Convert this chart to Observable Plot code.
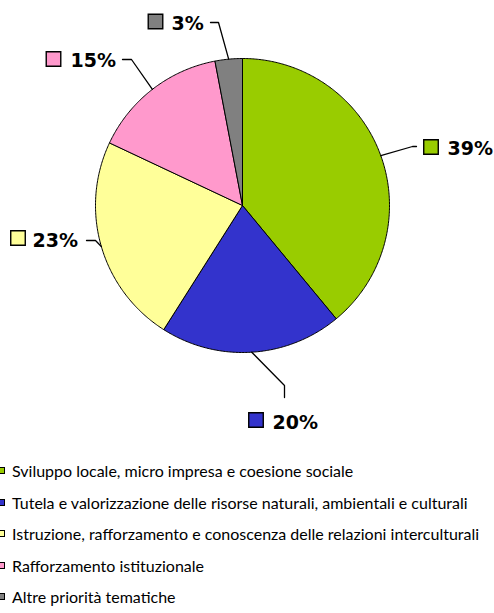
<!DOCTYPE html>
<html><head><meta charset="utf-8">
<script src="https://cdn.jsdelivr.net/npm/d3@7"></script>
<script src="https://cdn.jsdelivr.net/npm/@observablehq/plot@0.6"></script>
<style>
body{margin:0;background:#fff;}
#legend{font-family:"Lato",sans-serif;font-size:16px;color:#000;}
.row{height:31.5px;display:flex;align-items:center;white-space:nowrap;}
.sw{width:7px;height:7px;border:1px solid #000;margin-left:-2px;margin-right:7px;box-sizing:border-box;flex:none;}
</style></head>
<body><div id="chart"></div><div id="legend"></div>
<script>
const categories = [
  "Sviluppo locale, micro impresa e coesione sociale",
  "Tutela e valorizzazione delle risorse naturali, ambientali e culturali",
  "Istruzione, rafforzamento e conoscenza delle relazioni interculturali",
  "Rafforzamento istituzionale",
  "Altre priorità tematiche"
];
const values = [39, 20, 23, 15, 3];
const labels = ["39%", "20%", "23%", "15%", "3%"];
const colors = ["#99CC00", "#3333CC", "#FFFF99", "#FF99CC", "#808080"];

// layout (pixels)
const W = 494, H = 455, CX = 242, CY = 205, R = 147;
const leaderLayout = [
  [[412, 146], [416, 146]],
  [[284, 385], [284, 397]],
  [[95, 240], [86, 240]],
  [[131, 59], [122, 59]],
  [[218, 22], [210, 22]]
];
const squareLayout = [[430.5, 146.5], [255.5, 419.5], [17.5, 237.5], [53, 58.5], [155, 21]];
const textLayout = [[447, 148], [272, 422], [32, 240], [70, 60], [171, 23]];

const arcs = d3.pie().sort(null).value(d => d)(values);
const pt = (a, r) => [CX + r * Math.sin(a), CY - r * Math.cos(a)];

const slicePts = [];
arcs.forEach((a, i) => {
  slicePts.push({i, x: CX, y: CY});
  const n = Math.max(2, Math.ceil((a.endAngle - a.startAngle) / 0.01));
  for (let k = 0; k <= n; k++) {
    const t = a.startAngle + (a.endAngle - a.startAngle) * k / n;
    const [x, y] = pt(t, R);
    slicePts.push({i, x, y});
  }
  slicePts.push({i, x: CX, y: CY});
});

const leaderPts = [];
arcs.forEach((a, i) => {
  const [x, y] = pt((a.startAngle + a.endAngle) / 2, R);
  leaderPts.push({i, x, y});
  leaderLayout[i].forEach(([lx, ly]) => leaderPts.push({i, x: lx, y: ly}));
});

const labelData = values.map((v, i) => ({
  i, label: labels[i], color: colors[i],
  sx: squareLayout[i][0], sy: squareLayout[i][1],
  tx: textLayout[i][0], ty: textLayout[i][1]
}));

const chart = Plot.plot({
  width: W, height: H,
  marginTop: 0, marginRight: 0, marginBottom: 0, marginLeft: 0,
  x: {domain: [0, W], axis: null},
  y: {domain: [H, 0], axis: null},
  marks: [
    Plot.line(slicePts, {x: "x", y: "y", z: "i", fill: d => colors[d.i], stroke: "#000", strokeWidth: 1, strokeLinejoin: "round"}),
    Plot.line(leaderPts, {x: "x", y: "y", z: "i", stroke: "#000", strokeWidth: 1.3}),
    Plot.dot(labelData, {x: "sx", y: "sy", symbol: "square", r: 8.2, fill: d => d.color, stroke: "#000", strokeWidth: 1.4}),
    Plot.text(labelData, {x: "tx", y: "ty", text: "label", textAnchor: "start", lineAnchor: "middle",
      fontFamily: "DejaVu Sans", fontWeight: "bold", fontSize: 19, fill: "#000"})
  ]
});
chart.style.fontFamily = "DejaVu Sans";
document.getElementById("chart").appendChild(chart);

const legend = document.getElementById("legend");
categories.forEach((c, i) => {
  const row = document.createElement("div");
  row.className = "row";
  const sw = document.createElement("span");
  sw.className = "sw";
  sw.style.background = colors[i];
  const tx = document.createElement("span");
  tx.textContent = c;
  row.appendChild(sw); row.appendChild(tx);
  legend.appendChild(row);
});
</script>
</body></html>
